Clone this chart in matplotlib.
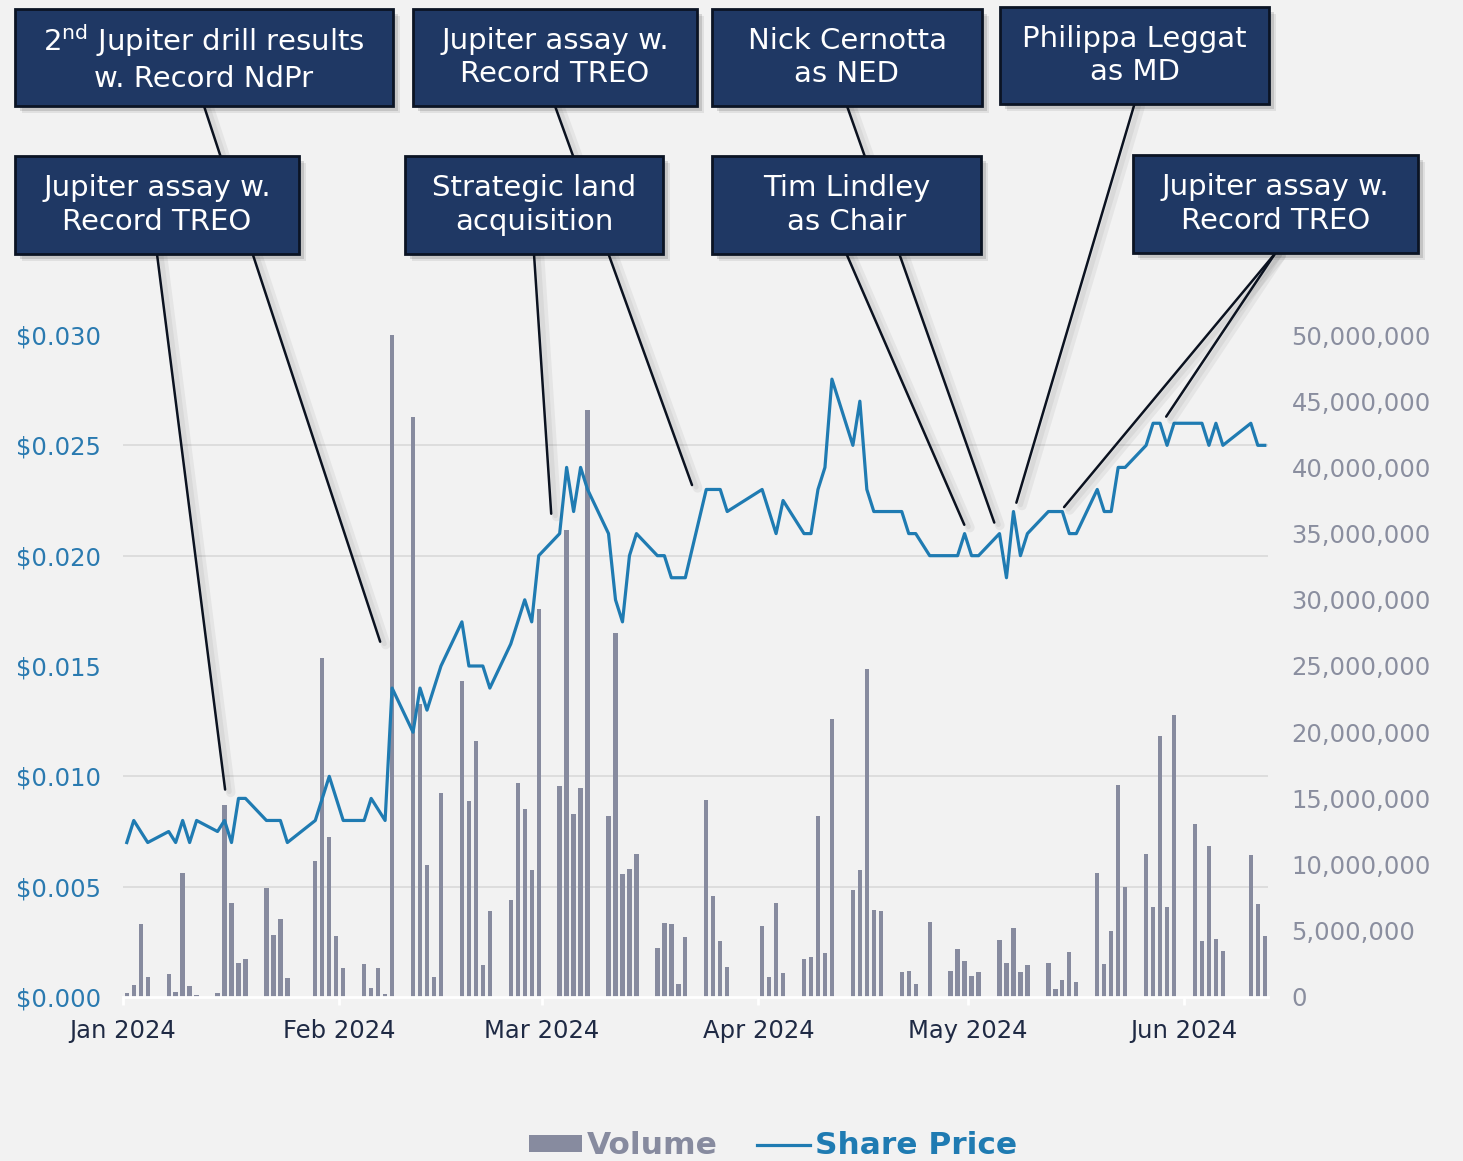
import numpy as np
import pandas as pd
import matplotlib
matplotlib.use("Agg")
import matplotlib.pyplot as plt
import matplotlib.dates as mdates
import matplotlib.patheffects as pe
from matplotlib.patches import Rectangle, Patch, ConnectionPatch
from matplotlib.lines import Line2D
from matplotlib.ticker import FuncFormatter

# trading days (ASX), close price and volume in millions
dates = [
    "2024-01-02", "2024-01-03", "2024-01-04", "2024-01-05",
    "2024-01-08", "2024-01-09", "2024-01-10", "2024-01-11", "2024-01-12",
    "2024-01-15", "2024-01-16", "2024-01-17", "2024-01-18", "2024-01-19",
    "2024-01-22", "2024-01-23", "2024-01-24", "2024-01-25",
    "2024-01-29", "2024-01-30", "2024-01-31", "2024-02-01", "2024-02-02",
    "2024-02-05", "2024-02-06", "2024-02-07", "2024-02-08", "2024-02-09",
    "2024-02-12", "2024-02-13", "2024-02-14", "2024-02-15", "2024-02-16",
    "2024-02-19", "2024-02-20", "2024-02-21", "2024-02-22", "2024-02-23",
    "2024-02-26", "2024-02-27", "2024-02-28", "2024-02-29", "2024-03-01",
    "2024-03-04", "2024-03-05", "2024-03-06", "2024-03-07", "2024-03-08",
    "2024-03-11", "2024-03-12", "2024-03-13", "2024-03-14", "2024-03-15",
    "2024-03-18", "2024-03-19", "2024-03-20", "2024-03-21", "2024-03-22",
    "2024-03-25", "2024-03-26", "2024-03-27", "2024-03-28",
    "2024-04-02", "2024-04-03", "2024-04-04", "2024-04-05",
    "2024-04-08", "2024-04-09", "2024-04-10", "2024-04-11", "2024-04-12",
    "2024-04-15", "2024-04-16", "2024-04-17", "2024-04-18", "2024-04-19",
    "2024-04-22", "2024-04-23", "2024-04-24", "2024-04-26",
    "2024-04-29", "2024-04-30", "2024-05-01", "2024-05-02", "2024-05-03",
    "2024-05-06", "2024-05-07", "2024-05-08", "2024-05-09", "2024-05-10",
    "2024-05-13", "2024-05-14", "2024-05-15", "2024-05-16", "2024-05-17",
    "2024-05-20", "2024-05-21", "2024-05-22", "2024-05-23", "2024-05-24",
    "2024-05-27", "2024-05-28", "2024-05-29", "2024-05-30", "2024-05-31",
    "2024-06-03", "2024-06-04", "2024-06-05", "2024-06-06", "2024-06-07",
    "2024-06-11", "2024-06-12", "2024-06-13",
]

price = [
    0.0070, 0.0080, 0.0075, 0.0070,
    0.0075, 0.0070, 0.0080, 0.0070, 0.0080,
    0.0075, 0.0080, 0.0070, 0.0090, 0.0090,
    0.0080, 0.0080, 0.0080, 0.0070,
    0.0080, 0.0090, 0.0100, 0.0090, 0.0080,
    0.0080, 0.0090, 0.0085, 0.0080, 0.0140,
    0.0120, 0.0140, 0.0130, 0.0140, 0.0150,
    0.0170, 0.0150, 0.0150, 0.0150, 0.0140,
    0.0160, 0.0170, 0.0180, 0.0170, 0.0200,
    0.0210, 0.0240, 0.0220, 0.0240, 0.0230,
    0.0210, 0.0180, 0.0170, 0.0200, 0.0210,
    0.0200, 0.0200, 0.0190, 0.0190, 0.0190,
    0.0230, 0.0230, 0.0230, 0.0220,
    0.0230, 0.0220, 0.0210, 0.0225,
    0.0210, 0.0210, 0.0230, 0.0240, 0.0280,
    0.0250, 0.0270, 0.0230, 0.0220, 0.0220,
    0.0220, 0.0210, 0.0210, 0.0200,
    0.0200, 0.0200, 0.0210, 0.0200, 0.0200,
    0.0210, 0.0190, 0.0220, 0.0200, 0.0210,
    0.0220, 0.0220, 0.0220, 0.0210, 0.0210,
    0.0230, 0.0220, 0.0220, 0.0240, 0.0240,
    0.0250, 0.0260, 0.0260, 0.0250, 0.0260,
    0.0260, 0.0260, 0.0250, 0.0260, 0.0250,
    0.0260, 0.0250, 0.0250,
]

volume_m = [
    0.28, 0.9, 5.5, 1.5,
    1.7, 0.4, 9.4, 0.8, 0.15,
    0.3, 14.5, 7.1, 2.6, 2.9,
    8.2, 4.7, 5.9, 1.4,
    10.3, 25.6, 12.1, 4.6, 2.2,
    2.5, 0.7, 2.2, 0.2, 50.0,
    43.8, 22.1, 10.0, 1.5, 15.4,
    23.9, 14.8, 19.3, 2.4, 6.5,
    7.3, 16.2, 14.2, 9.6, 29.3,
    15.9, 35.3, 13.8, 15.8, 44.3,
    13.7, 27.5, 9.3, 9.7, 10.8,
    3.7, 5.6, 5.5, 1.0, 4.5,
    14.9, 7.6, 4.2, 2.3,
    5.4, 1.5, 7.1, 1.8,
    2.9, 3.0, 13.7, 3.3, 21.0,
    8.1, 9.6, 24.8, 6.6, 6.5,
    1.9, 2.0, 1.0, 5.7,
    2.0, 3.6, 2.75, 1.6, 1.9,
    4.3, 2.6, 5.2, 1.9, 2.4,
    2.6, 0.6, 1.3, 3.4, 1.1,
    9.4, 2.5, 5.0, 16.0, 8.3,
    10.8, 6.8, 19.7, 6.8, 21.3,
    13.1, 4.2, 11.4, 4.4, 3.5,
    10.7, 7.0, 4.6,
]

# event call-outs: text, box (px: left, top, right, bottom), connector tips (time, price)
event_labels = [
    "2$^{\\mathregular{nd}}$ Jupiter drill results\nw. Record NdPr",
    "Jupiter assay w.\nRecord TREO",
    "Nick Cernotta\nas NED",
    "Philippa Leggat\nas MD",
    "Jupiter assay w.\nRecord TREO",
    "Strategic land\nacquisition",
    "Tim Lindley\nas Chair",
    "Jupiter assay w.\nRecord TREO",
]
event_tips = [
    [("2024-02-06 20:00", 0.0161)],
    [("2024-03-22 12:00", 0.0232)],
    [("2024-05-04 19:00", 0.0215)],
    [("2024-05-07 23:00", 0.0224)],
    [("2024-01-15 15:00", 0.0094)],
    [("2024-03-02 08:00", 0.0219)],
    [("2024-04-30 12:00", 0.0214)],
    [("2024-05-14 19:00", 0.0222), ("2024-05-29 10:00", 0.0263)],
]
box_px = [
    (15, 9, 393, 106), (413, 9, 697, 106), (712, 9, 982, 106), (1000, 7, 1269, 104),
    (15, 156, 299, 254), (405, 156, 663, 254), (712, 156, 981, 254), (1133, 155, 1418, 253),
]

BG = "#f2f2f2"
BAR = "#878b9f"
LINE = "#1f7bb2"
NAVY = "#1f3864"
W, H = 1463, 1161

fig = plt.figure(figsize=(W / 100, H / 100), dpi=100, facecolor=BG)
ax = fig.add_axes([123 / W, 1 - 997 / H, (1268 - 123) / W, (997 - 335) / H])
ax.set_facecolor(BG)
ax2 = ax.twinx()

x = mdates.date2num(pd.to_datetime(dates) - pd.Timedelta(hours=11))
vol = np.array(volume_m) * 1e6

ax.bar(x, vol, width=0.62, color=BAR, zorder=3)
ax.set_ylim(0, 50e6)
ax.set_yticks(np.arange(0, 50e6 + 1, 5e6))
ax.set_yticks(np.linspace(0, 50e6, 7), minor=True)
ax.grid(which="minor", axis="y", color="#d9d9d9", lw=1.2, zorder=0)
ax.tick_params(axis="y", which="minor", length=0)
ax.yaxis.tick_right()
ax.yaxis.set_major_formatter(FuncFormatter(lambda v, p: f"{v:,.0f}"))
ax.tick_params(axis="y", length=0, pad=17, labelsize=17.5, labelcolor="#8a8e9f")

ax2.plot(x, price, color=LINE, lw=2.3, zorder=4)
ax2.set_ylim(0, 0.030)
ax2.set_yticks(np.arange(0, 0.0301, 0.005))
ax2.yaxis.tick_left()
ax2.yaxis.set_major_formatter(FuncFormatter(lambda v, p: f"${v:.3f}"))
ax2.tick_params(axis="y", length=0, pad=16, labelsize=17.5, labelcolor="#2a7ab0")

ax.set_xlim(mdates.date2num(pd.Timestamp("2024-01-01")), mdates.date2num(pd.Timestamp("2024-06-13")))
ax.xaxis.set_major_locator(mdates.MonthLocator())
ax.xaxis.set_major_formatter(mdates.DateFormatter("%b %Y"))
ax.tick_params(axis="x", length=6, width=2, color="white", pad=10, labelsize=17.5, labelcolor="#1f2a44")

for a in (ax, ax2):
    for s in a.spines.values():
        s.set_visible(False)
ax.spines["bottom"].set_visible(True)
ax.spines["bottom"].set_color("white")
ax.spines["bottom"].set_linewidth(2)
ax.spines["bottom"].set_zorder(5)

# call-out boxes and connectors
box_shadow = [pe.SimplePatchShadow(offset=(5, -5), shadow_rgbFace="#000000", alpha=0.07),
              pe.SimplePatchShadow(offset=(3.5, -3.5), shadow_rgbFace="#000000", alpha=0.12),
              pe.Normal()]
line_shadow = [pe.SimpleLineShadow(offset=(4, -2), shadow_color="#000000", alpha=0.05, linewidth=7),
               pe.SimpleLineShadow(offset=(3, -1.5), shadow_color="#000000", alpha=0.05, linewidth=3.5),
               pe.Normal()]

for label, (l, t, r, b), tips in zip(event_labels, box_px, event_tips):
    fx0, fx1 = l / W, r / W
    fy0, fy1 = 1 - b / H, 1 - t / H
    for when, val in tips:
        con = ConnectionPatch(xyA=((fx0 + fx1) / 2, fy0), coordsA="figure fraction",
                              xyB=(mdates.date2num(pd.Timestamp(when)), val), coordsB=ax2.transData,
                              arrowstyle="-", color="#0b1220", lw=1.8, zorder=10,
                              path_effects=line_shadow)
        con.set_clip_on(False)
        fig.add_artist(con)
    rect = Rectangle((fx0, fy0), fx1 - fx0, fy1 - fy0, transform=fig.transFigure,
                     facecolor=NAVY, edgecolor="#0b1424", lw=2, zorder=11,
                     path_effects=box_shadow)
    fig.add_artist(rect)
    fig.text((fx0 + fx1) / 2, (fy0 + fy1) / 2, label, ha="center", va="center",
             color="white", fontsize=21, linespacing=1.25, zorder=12)

handles = [Patch(facecolor=BAR, edgecolor="none"), Line2D([], [], color=LINE, lw=2.3)]
fig.legend(handles, ["Volume", "Share Price"], loc="center", bbox_to_anchor=(773 / W, 1 - 1146 / H),
           ncol=2, frameon=False, prop={"weight": "bold", "size": 22.5},
           labelcolor=[BAR, LINE], handlelength=1.7, handleheight=0.5,
           handletextpad=0.15, columnspacing=1.25)

fig.savefig("out.png", dpi=100, facecolor=BG)
